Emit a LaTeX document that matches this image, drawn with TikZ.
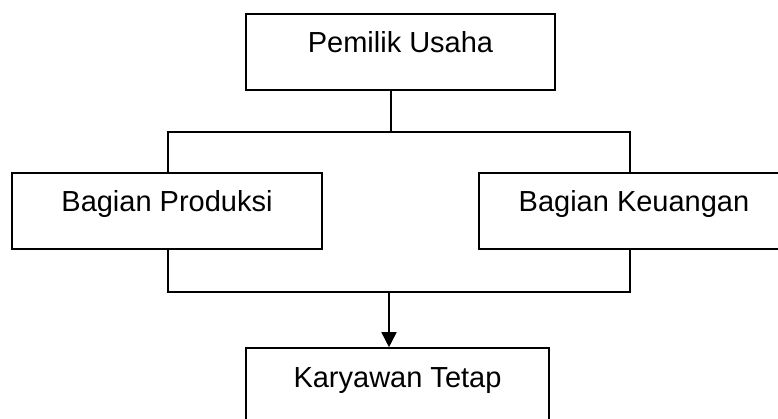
\documentclass[tikz,border=0pt]{standalone}
\usepackage{fontspec}
\setmainfont{Liberation Sans}
\usetikzlibrary{arrows.meta}
\begin{document}
\begin{tikzpicture}[x=1pt, y=-1pt, line width=1.6pt,
    box/.style={draw, inner sep=0pt, text height=39pt, text depth=37pt,
      font=\fontsize{29}{35}\selectfont}]
    \useasboundingbox (0,0) rectangle (778,419);
    \begin{scope}
    \clip (0,0) rectangle (778,419);
    \node[box, minimum width=309pt, anchor=base] (pu) at (400.5,53) {Pemilik Usaha};
    \node[box, minimum width=310pt, anchor=base] (bp) at (167,212) {Bagian Produksi};
    \node[box, minimum width=310pt, anchor=base] (bk) at (634,212) {Bagian Keuangan};
    \node[box, minimum width=303pt, anchor=base] (kt) at (397.5,387) {Karyawan Tetap};
    \end{scope}
    
    \coordinate (t) at (391,132);
    \coordinate (tl) at (168,132);
    \coordinate (tr) at (630,132);
    \coordinate (bl) at (168,292);
    \coordinate (br) at (630,292);
    \coordinate (m) at (389,292);
    
    \draw (pu.south -| t) -- (t);
    \draw (bp.north -| tl) -- (tl) -- (tr) -- (bk.north -| tr);
    \draw (bp.south -| bl) -- (bl) -- (br) -- (bk.south -| br);
    \draw[-{Triangle[length=15pt, width=15pt]}] (m) -- (kt.north -| m);
    
  \end{tikzpicture}
\end{document}
